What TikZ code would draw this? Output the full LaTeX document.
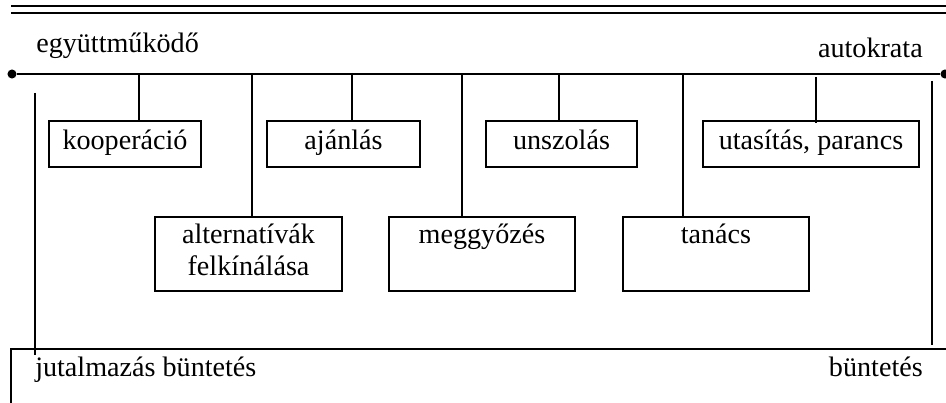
\documentclass[tikz,border=0pt]{standalone}
\usepackage{fontspec}
\setmainfont{Liberation Serif}
\begin{document}
\begin{tikzpicture}[x=0.75pt,y=-0.75pt,
  thin line/.style={line width=1.1pt},
  main line/.style={line width=2.1pt},
  box/.style={draw,line width=1.1pt,inner sep=0pt},
  lbl/.style={inner sep=0pt,font=\fontsize{21.1}{24}\selectfont},
  dot/.style={circle,fill,inner sep=0pt,minimum size=6.8pt}]
\useasboundingbox (0,0) rectangle (946,403);
% top double rule
\draw[thin line] (11,6) -- (946,6);
\draw[thin line] (11,13) -- (946,13);
% main axis
\node[dot] (L) at (12,74) {};
\node[dot] (R) at (945,74) {};
\draw[main line] (L) -- (R);
\node[lbl,anchor=base west] (egy) at (36,53) {együttműködő};
\node[lbl,anchor=base east] (auto) at (923,58) {autokrata};
% boxes, upper row
\node[box,minimum width=152*0.75pt,minimum height=46*0.75pt] (koop) at (125,144) {};
\node[lbl,anchor=base] at (125,149) {kooperáció};
\node[box,minimum width=153*0.75pt,minimum height=46*0.75pt] (ajan) at (343.5,144) {};
\node[lbl,anchor=base] at (343.5,149) {ajánlás};
\node[box,minimum width=151*0.75pt,minimum height=46*0.75pt] (unsz) at (561.5,144) {};
\node[lbl,anchor=base] at (561.5,149) {unszolás};
\node[box,minimum width=216*0.75pt,minimum height=46*0.75pt] (utas) at (811,144) {};
\node[lbl,anchor=base] at (811,149) {utasítás, parancs};
% boxes, lower row
\node[box,minimum width=187*0.75pt,minimum height=74*0.75pt] (alt) at (248.5,254) {};
\node[lbl,anchor=base,align=center] at (248.5,243) {alternatívák};
\node[lbl,anchor=base] at (248.5,275) {felkínálása};
\node[box,minimum width=186*0.75pt,minimum height=74*0.75pt] (megg) at (482,254) {};
\node[lbl,anchor=base] at (482,243) {meggyőzés};
\node[box,minimum width=186*0.75pt,minimum height=74*0.75pt] (tan) at (716,254) {};
\node[lbl,anchor=base] at (716,243) {tanács};
% connectors
\coordinate (c1) at (139,74);
\coordinate (c2) at (252,74);
\coordinate (c3) at (352,73);
\coordinate (c4) at (462,74);
\coordinate (c5) at (559,74);
\coordinate (c6) at (683,74);
\coordinate (c7) at (816,77);
\draw[thin line] (c1) -- (c1 |- koop.north);
\draw[thin line] (c2) -- (c2 |- alt.north);
\draw[thin line] (c3) -- (c3 |- ajan.north);
\draw[thin line] (c4) -- (c4 |- megg.north);
\draw[thin line] (c5) -- (c5 |- unsz.north);
\draw[thin line] (c6) -- (c6 |- tan.north);
\draw[thin line] (c7) -- ([yshift=-2pt]c7 |- utas.north);
% side verticals
\coordinate (lv1) at (35,93);
\coordinate (lv2) at (35,355);
\draw[thin line] (lv1) -- (lv2);
\coordinate (rv1) at (932,81);
\coordinate (rv2) at (932,345);
\draw[thin line] (rv1) -- (rv2);
% bottom frame
\coordinate (b1) at (11,403);
\coordinate (b2) at (11,349);
\coordinate (b3) at (946,349);
\draw[thin line] (b1) -- (b2) -- (b3);
\node[lbl,anchor=base west] (jut) at (35,376) {jutalmazás büntetés};
\node[lbl,anchor=base east] (bunt) at (923,376) {büntetés};
\end{tikzpicture}
\end{document}
